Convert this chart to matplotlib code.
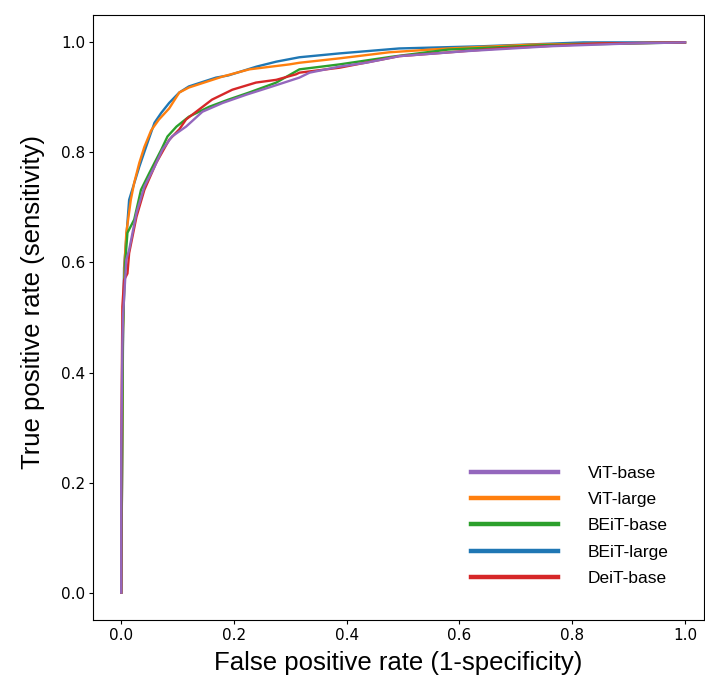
import matplotlib.pyplot as plt

plt.rcParams['font.family'] = ['Liberation Sans', 'DejaVu Sans']

labels = ["ViT-base", "ViT-large", "BEiT-base", "BEiT-large", "DeiT-base"]
colors = ["#9467bd", "#ff7f0e", "#2ca02c", "#1f77b4", "#d62728"]

# ROC points (fpr, tpr)
vit_base_fpr = [0.0, 0.0, 0.002, 0.003, 0.009, 0.014, 0.027, 0.041, 0.059, 0.073, 0.09, 0.115,
                0.144, 0.18, 0.222, 0.268, 0.31, 0.316, 0.334, 0.387, 0.434, 0.493, 0.61, 0.76, 0.9, 1.0]
vit_base_tpr = [0.0, 0.26, 0.45, 0.5, 0.605, 0.623, 0.69, 0.738, 0.774, 0.805, 0.829, 0.847,
                0.874, 0.89, 0.905, 0.92, 0.934, 0.936, 0.945, 0.956, 0.963, 0.975, 0.984, 0.993, 0.998, 1.0]

vit_large_fpr = [0.0, 0.003, 0.006, 0.009, 0.017, 0.023, 0.032, 0.041, 0.053, 0.067, 0.085, 0.103,
                 0.12, 0.18, 0.227, 0.298, 0.316, 0.387, 0.475, 0.58, 0.73, 1.0]
vit_large_tpr = [0.0, 0.47, 0.6, 0.654, 0.714, 0.745, 0.781, 0.81, 0.84, 0.86, 0.88, 0.909,
                 0.918, 0.938, 0.951, 0.96, 0.963, 0.971, 0.982, 0.989, 0.996, 1.0]

beit_base_fpr = [0.0, 0.003, 0.007, 0.011, 0.023, 0.035, 0.05, 0.071, 0.082, 0.098, 0.12, 0.156,
                 0.19, 0.227, 0.275, 0.316, 0.387, 0.48, 0.58, 0.75, 1.0]
beit_base_tpr = [0.0, 0.48, 0.6, 0.654, 0.678, 0.732, 0.763, 0.805, 0.829, 0.847, 0.865, 0.883,
                 0.896, 0.909, 0.927, 0.951, 0.96, 0.974, 0.987, 0.995, 1.0]

beit_large_fpr = [0.0, 0.003, 0.005, 0.014, 0.032, 0.044, 0.059, 0.071, 0.085, 0.103, 0.12, 0.168,
                  0.19, 0.24, 0.275, 0.316, 0.387, 0.493, 0.64, 0.82, 1.0]
beit_large_tpr = [0.0, 0.45, 0.59, 0.714, 0.774, 0.81, 0.854, 0.872, 0.89, 0.909, 0.92, 0.936,
                  0.94, 0.956, 0.965, 0.973, 0.98, 0.989, 0.993, 1.0, 1.0]

deit_base_fpr = [0.0, 0.0, 0.002, 0.005, 0.011, 0.014, 0.027, 0.041, 0.062, 0.085, 0.103, 0.115,
                 0.138, 0.161, 0.197, 0.239, 0.275, 0.31, 0.316, 0.387, 0.493, 0.67, 0.848, 1.0]
deit_base_tpr = [0.0, 0.259, 0.52, 0.568, 0.58, 0.617, 0.683, 0.732, 0.781, 0.823, 0.842, 0.86,
                 0.878, 0.896, 0.914, 0.927, 0.932, 0.942, 0.945, 0.954, 0.975, 0.989, 0.998, 1.0]

curves = [
    (vit_base_fpr, vit_base_tpr),
    (vit_large_fpr, vit_large_tpr),
    (beit_base_fpr, beit_base_tpr),
    (beit_large_fpr, beit_large_tpr),
    (deit_base_fpr, deit_base_tpr),
]

fig = plt.figure(figsize=(7.05, 6.77), dpi=100)
ax = fig.add_axes([0.132, 0.084, 0.866, 0.894])

# draw in an order that keeps purple on top near the origin
order = [3, 1, 2, 4, 0]
lines = {}
for i in order:
    fpr, tpr = curves[i]
    lines[i], = ax.plot(fpr, tpr, color=colors[i], lw=1.7, label=labels[i])

leg = ax.legend([lines[i] for i in range(5)], labels, loc="lower right", frameon=False,
                fontsize=12.5, handlelength=5, handletextpad=1.7, labelspacing=0.65,
                bbox_to_anchor=(0.968, 0.03))
for line in leg.get_lines():
    line.set_linewidth(3.2)

ax.set_xlim(-0.05, 1.033)
ax.set_ylim(-0.05, 1.05)
ax.set_xticks([0.0, 0.2, 0.4, 0.6, 0.8, 1.0])
ax.set_yticks([0.0, 0.2, 0.4, 0.6, 0.8, 1.0])
ax.tick_params(labelsize=11, pad=2.5, length=3)
for lbl in ax.get_xticklabels() + ax.get_yticklabels():
    lbl.set_family('DejaVu Sans')
ax.set_xlabel("False positive rate (1-specificity)", fontsize=18.5, labelpad=6)
ax.set_ylabel("True positive rate (sensitivity)", fontsize=18.5)
ax.yaxis.set_label_coords(-0.079, 0.525)

plt.savefig("out.png", dpi=100)
plt.close()
